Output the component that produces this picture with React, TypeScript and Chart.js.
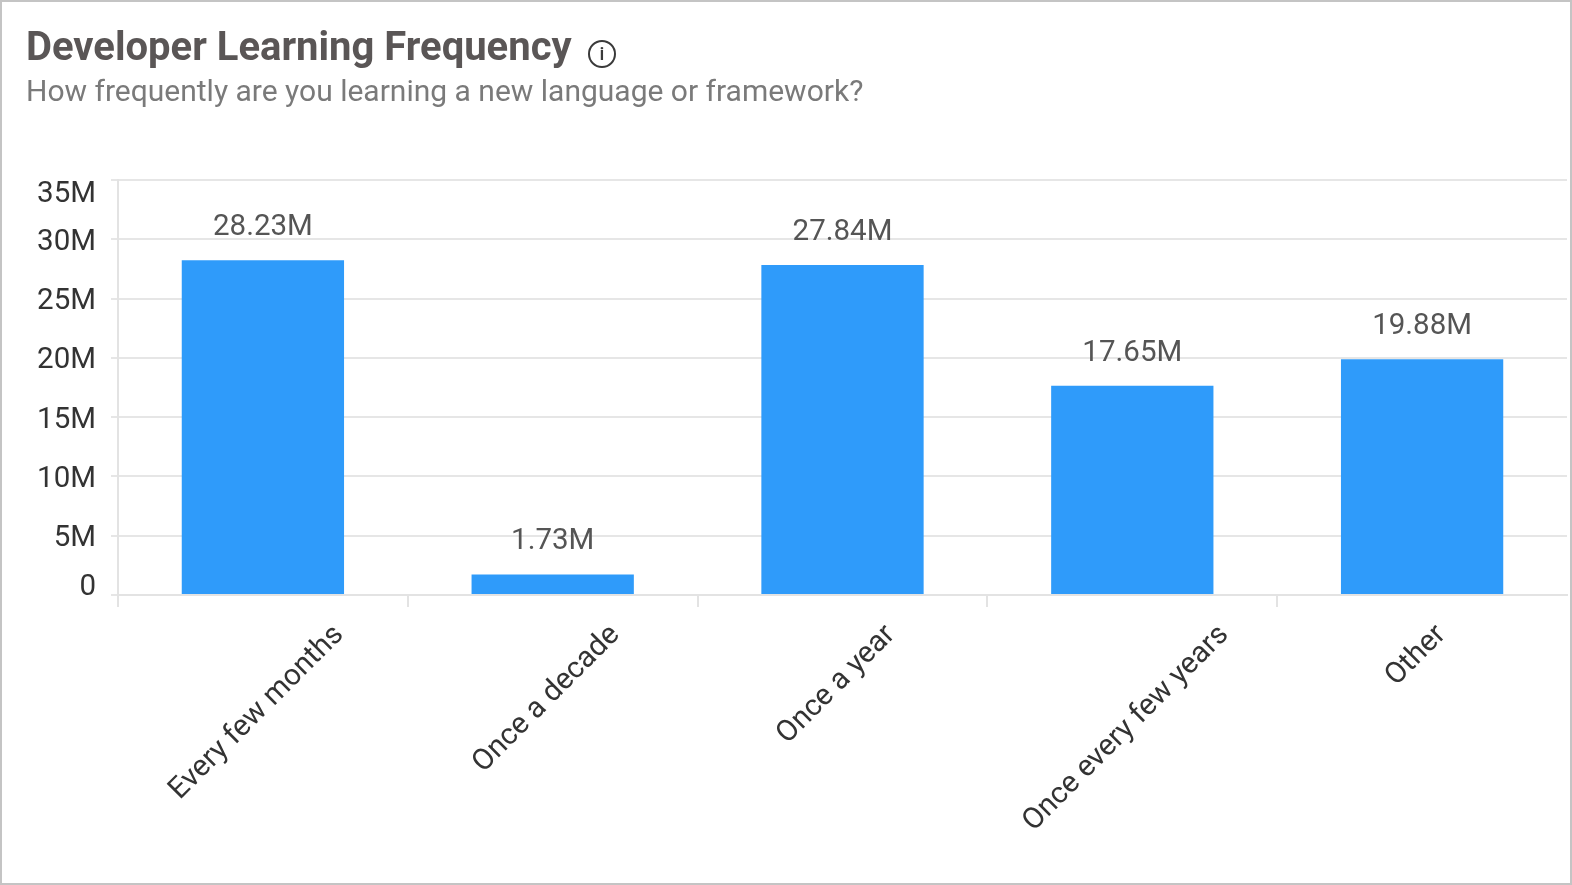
import React, { useEffect, useRef } from "react";
import { Chart, registerables } from "chart.js";

Chart.register(...registerables);

const categories = ["Every few months", "Once a decade", "Once a year", "Once every few years", "Other"];
const values = [28230000, 1730000, 27840000, 17650000, 19880000];
const valueLabels = ["28.23M", "1.73M", "27.84M", "17.65M", "19.88M"];
const yTickValues = [0, 5000000, 10000000, 15000000, 20000000, 25000000, 30000000, 35000000];
const yTickLabels = ["0", "5M", "10M", "15M", "20M", "25M", "30M", "35M"];

const FONT = "Roboto, 'Noto Sans', Arial, sans-serif";

const labelPlugin = {
  id: "customLabels",
  afterDatasetsDraw(chart: any) {
    const ctx = chart.ctx;
    const xs = chart.scales.x;
    const ys = chart.scales.y;
    const area = chart.chartArea;
    ctx.save();

    // y tick labels (clamped inside the plot like the original)
    ctx.font = `29.5px ${FONT}`;
    ctx.fillStyle = "#333333";
    ctx.textAlign = "right";
    ctx.textBaseline = "middle";
    yTickValues.forEach((v, i) => {
      let py = ys.getPixelForValue(v) + 3;
      py = Math.max(area.top + 15, Math.min(area.bottom - 7, py));
      ctx.fillText(yTickLabels[i], area.left - 22, py);
    });

    // value labels above bars
    const meta = chart.getDatasetMeta(0);
    ctx.fillStyle = "#555555";
    ctx.textAlign = "center";
    ctx.textBaseline = "alphabetic";
    meta.data.forEach((bar: any, i: number) => {
      ctx.fillText(valueLabels[i], bar.x, bar.y - 25);
    });

    // rotated category labels, rotated about their centre
    ctx.fillStyle = "#333333";
    ctx.textBaseline = "middle";
    ctx.textAlign = "center";
    categories.forEach((label, i) => {
      const w = ctx.measureText(label).width;
      const h = 24;
      const cx = xs.getPixelForValue(i) - 6;
      const cy = area.bottom + 27 + ((w + h) * Math.SQRT1_2) / 2;
      ctx.save();
      ctx.translate(cx, cy);
      ctx.rotate(-Math.PI / 4);
      ctx.fillText(label, 0, 0);
      ctx.restore();
    });

    ctx.restore();
  },
};

function ChartCanvas() {
  const ref = useRef<HTMLCanvasElement | null>(null);
  useEffect(() => {
    if (!ref.current) return;
    const chart = new Chart(ref.current, {
      type: "bar",
      data: {
        labels: categories,
        datasets: [
          {
            data: values,
            backgroundColor: "#2f9bfa",
            borderWidth: 0,
            barPercentage: 0.56,
            categoryPercentage: 1,
          },
        ],
      },
      options: {
        responsive: false,
        animation: false,
        devicePixelRatio: 1,
        layout: { padding: { top: 180, right: 5, left: 0, bottom: 0 } },
        plugins: {
          legend: { display: false },
          tooltip: { enabled: false },
          title: { display: false },
        },
        scales: {
          x: {
            type: "category",
            offset: true,
            grid: {
              display: true,
              offset: true,
              drawOnChartArea: false,
              drawTicks: true,
              tickLength: 12,
              lineWidth: 2,
              color: (c: any) => (c.type !== "tick" ? "rgba(0,0,0,0)" : "#e3e3e3"),
            },
            border: { display: true, color: "#e3e3e3", width: 2 },
            ticks: { display: false },
            afterFit: (s: any) => {
              s.height = 290;
            },
          },
          y: {
            min: 0,
            max: 35000000,
            ticks: { display: false, stepSize: 5000000 },
            grid: { color: "#e6e6e6", lineWidth: 2, tickLength: 7, drawTicks: true },
            border: { display: true, color: "#e3e3e3", width: 2 },
            afterFit: (s: any) => {
              s.width = 118;
            },
          },
        },
      },
      plugins: [labelPlugin],
    } as any);
    return () => chart.destroy();
  }, []);
  return (
    <canvas
      ref={ref}
      width={1572}
      height={885}
      style={{ position: "absolute", left: 0, top: 0, width: 1572, height: 885 }}
    />
  );
}

export default function App() {
  return (
    <div
      style={{
        position: "fixed",
        left: 0,
        top: 0,
        width: 1572,
        height: 885,
        background: "#ffffff",
        fontFamily: FONT,
        overflow: "hidden",
      }}
    >
      <ChartCanvas />
      <div
        style={{
          position: "absolute",
          left: 0,
          top: 0,
          width: 1572,
          height: 885,
          boxSizing: "border-box",
          border: "2px solid #c4c4c4",
          pointerEvents: "none",
        }}
      />
      <div
        style={{
          position: "absolute",
          left: 26,
          top: 27,
          fontSize: 40,
          lineHeight: 1,
          fontWeight: 700,
          color: "#5a5656",
          whiteSpace: "nowrap",
        }}
      >
        Developer Learning Frequency
      </div>
      <div
        style={{
          position: "absolute",
          left: 588,
          top: 40,
          width: 24,
          height: 24,
          border: "2px solid #3a3a3a",
          borderRadius: "50%",
          color: "#3a3a3a",
          fontSize: 19,
          lineHeight: "24px",
          textAlign: "center",
          fontWeight: 500,
        }}
      >
        i
      </div>
      <div
        style={{
          position: "absolute",
          left: 26,
          top: 76,
          fontSize: 30,
          lineHeight: 1,
          color: "#7a7a7a",
          whiteSpace: "nowrap",
        }}
      >
        How frequently are you learning a new language or framework?
      </div>
    </div>
  );
}
